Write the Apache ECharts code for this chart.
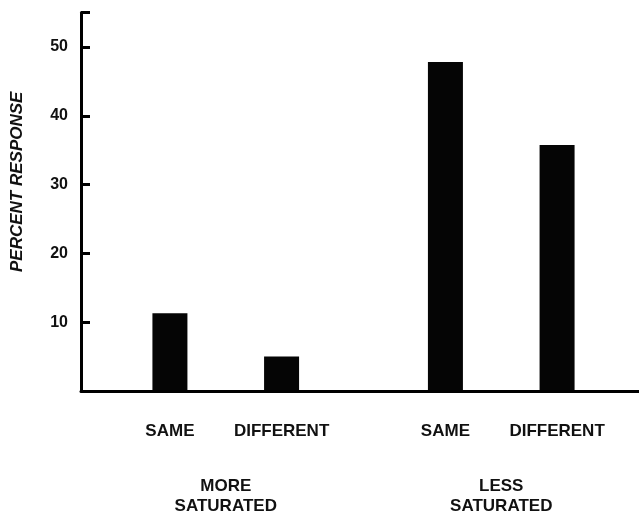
<!DOCTYPE html>
<html>
<head>
<meta charset="utf-8">
<style>html,body{margin:0;padding:0;background:#fff}#c{width:639px;height:516px}</style>
<script src="https://cdn.jsdelivr.net/npm/echarts@6/dist/echarts.min.js"></script>
</head>
<body>
<div id="c"></div>
<script>
const groups = ['MORE\nSATURATED', 'LESS\nSATURATED'];
const seriesNames = ['SAME', 'DIFFERENT'];
const sameValues = [11.2, 47.8];
const differentValues = [4.9, 35.7];
const yTicks = [10, 20, 30, 40, 50];
const yMax = 55;
const yLabel = 'PERCENT RESPONSE';

const chart = echarts.init(document.getElementById('c'), null, {renderer: 'canvas'});
const font = 'Liberation Sans, Arial, sans-serif';
const gridTop = 12.6, gridBottom = 125;

const barLabel = {
  show: true, position: 'bottom', distance: 33,
  formatter: '{a}', color: '#111', fontFamily: font, fontSize: 17, fontWeight: 'bold'
};

chart.setOption({
  animation: false,
  backgroundColor: '#fff',
  grid: [
    {left: 81, right: 0, top: gridTop, bottom: gridBottom},
    {left: 88, right: -1, top: gridTop, bottom: gridBottom}
  ],
  xAxis: [
    {type: 'value', gridIndex: 0, min: 0, max: 1,
     axisLine: {show: true, lineStyle: {color: '#000', width: 3}},
     axisTick: {show: false}, axisLabel: {show: false}, splitLine: {show: false}},
    {type: 'category', gridIndex: 1, data: groups,
     axisLine: {show: false}, axisTick: {show: false}, splitLine: {show: false},
     axisLabel: {margin: 86, color: '#111', fontFamily: font, fontSize: 17, fontWeight: 'bold', lineHeight: 20}}
  ],
  yAxis: [
    {type: 'value', gridIndex: 0, min: 0, max: yMax, interval: 10,
     axisLine: {show: true, lineStyle: {color: '#000', width: 3}},
     axisTick: {show: true, inside: true, length: 9, lineStyle: {color: '#000', width: 3}},
     splitLine: {show: false},
     axisLabel: {margin: 13, color: '#111', fontFamily: font, fontSize: 16, fontWeight: 'bold',
       formatter: v => yTicks.indexOf(v) >= 0 ? String(v) : ''},
     name: yLabel, nameLocation: 'middle', nameGap: 55, nameRotate: 90,
     nameTextStyle: {color: '#111', fontFamily: font, fontSize: 17, fontWeight: 'bold',
       fontStyle: 'italic', padding: [0, 0, 0, 40]}},
    {type: 'value', gridIndex: 1, min: 0, max: yMax, show: false}
  ],
  series: [
    {name: seriesNames[0], type: 'bar', xAxisIndex: 1, yAxisIndex: 1, data: sameValues,
     barWidth: 35, barGap: '219%', itemStyle: {color: '#050505'}, label: barLabel},
    {name: seriesNames[1], type: 'bar', xAxisIndex: 1, yAxisIndex: 1, data: differentValues,
     barWidth: 35, barGap: '219%', itemStyle: {color: '#050505'}, label: barLabel}
  ]
});
</script>
</body>
</html>
